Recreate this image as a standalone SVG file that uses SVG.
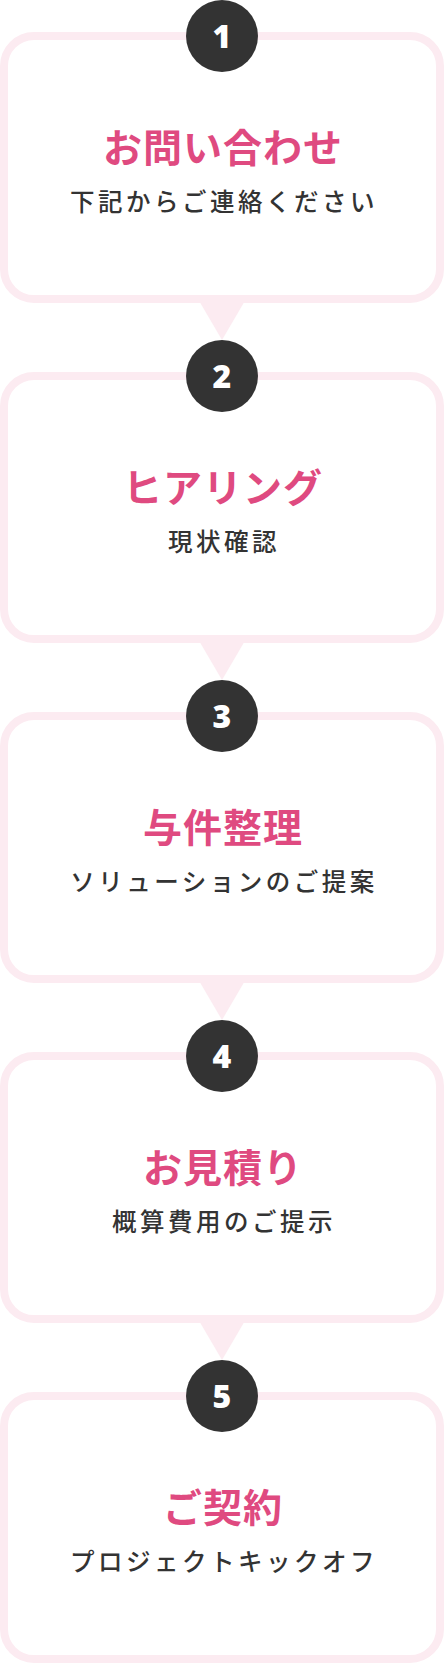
<svg xmlns="http://www.w3.org/2000/svg" width="444" height="1664" viewBox="0 0 444 1664">
<style>
.box{fill:#fff;stroke:#fcebf1;stroke-width:8}
.tri{fill:#fcebf1}
.num{fill:#333}
.nt{fill:#fff;font-family:"Noto Sans","DejaVu Sans",sans-serif;font-weight:900;font-size:32px;text-anchor:middle}
.tt{fill:#df4a80;font-family:"Noto Sans CJK JP",sans-serif;font-weight:700;font-size:39px;letter-spacing:1px;text-anchor:middle}
.st{fill:#333;font-family:"Noto Sans CJK JP",sans-serif;font-weight:500;font-size:24.5px;letter-spacing:3.5px;text-anchor:middle}
</style>
<g id="connectors">
<polygon class="tri" points="198,299 246,299 222,340"/>
<polygon class="tri" points="198,639 246,639 222,680"/>
<polygon class="tri" points="198,979 246,979 222,1020"/>
<polygon class="tri" points="198,1319 246,1319 222,1360"/>
</g>
<g id="step1">
<rect class="box" x="4" y="36" width="436" height="263" rx="30"/>
<circle class="num" cx="222" cy="36" r="36"/>
<text class="nt" x="222" y="48">1</text>
<text class="tt" x="223" y="162">お問い合わせ</text>
<text class="st" x="224" y="211">下記からご連絡ください</text>
</g>
<g id="step2">
<rect class="box" x="4" y="376" width="436" height="263" rx="30"/>
<circle class="num" cx="222" cy="376" r="36"/>
<text class="nt" x="222" y="388">2</text>
<text class="tt" x="223" y="502">ヒアリング</text>
<text class="st" x="224" y="551">現状確認</text>
</g>
<g id="step3">
<rect class="box" x="4" y="716" width="436" height="263" rx="30"/>
<circle class="num" cx="222" cy="716" r="36"/>
<text class="nt" x="222" y="728">3</text>
<text class="tt" x="223" y="842">与件整理</text>
<text class="st" x="224" y="891">ソリューションのご提案</text>
</g>
<g id="step4">
<rect class="box" x="4" y="1056" width="436" height="263" rx="30"/>
<circle class="num" cx="222" cy="1056" r="36"/>
<text class="nt" x="222" y="1068">4</text>
<text class="tt" x="223" y="1182">お見積り</text>
<text class="st" x="224" y="1231">概算費用のご提示</text>
</g>
<g id="step5">
<rect class="box" x="4" y="1396" width="436" height="263" rx="30"/>
<circle class="num" cx="222" cy="1396" r="36"/>
<text class="nt" x="222" y="1408">5</text>
<text class="tt" x="223" y="1522">ご契約</text>
<text class="st" x="224" y="1571">プロジェクトキックオフ</text>
</g>
</svg>
